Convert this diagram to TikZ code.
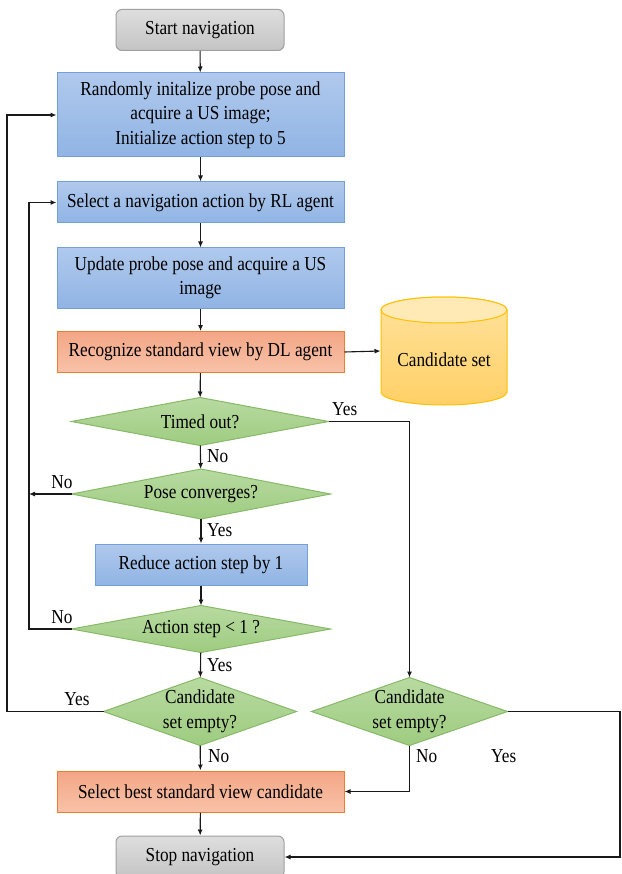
\documentclass[tikz,border=0pt]{standalone}
\usepackage{fontspec}
\setmainfont[FakeStretch=0.87]{Liberation Serif}
\usetikzlibrary{arrows.meta,backgrounds,calc}
\definecolor{bluetop}{RGB}{176,201,237}
\definecolor{bluebot}{RGB}{144,180,228}
\definecolor{blueedge}{RGB}{116,160,216}
\definecolor{ortop}{RGB}{243,166,134}
\definecolor{orbot}{RGB}{248,194,168}
\definecolor{oredge}{RGB}{237,125,49}
\definecolor{grtop}{RGB}{184,218,161}
\definecolor{grbot}{RGB}{158,204,128}
\definecolor{gredge}{RGB}{135,185,105}
\definecolor{gytop}{RGB}{222,222,222}
\definecolor{gybot}{RGB}{196,196,196}
\definecolor{gyedge}{RGB}{160,160,160}
\definecolor{yltop}{RGB}{255,226,156}
\definecolor{ylbot}{RGB}{255,208,102}
\definecolor{yledge}{RGB}{255,192,0}
\definecolor{linec}{RGB}{25,25,25}
\begin{document}
\begin{tikzpicture}[x=1pt,y=-1pt,
  font=\fontsize{19.8}{24.5}\selectfont,
  base/.style={align=center,inner sep=0pt,line width=1pt},
  bluebox/.style={base,draw=blueedge,top color=bluetop,bottom color=bluebot,minimum width=287pt},
  orbox/.style={base,draw=oredge,top color=ortop,bottom color=orbot,minimum width=287pt,minimum height=41pt},
  graybox/.style={base,draw=gyedge,top color=gytop,bottom color=gybot,rounded corners=6pt,minimum width=168pt},
  dianode/.style={base,rectangle},
  diashape/.style={draw=gredge,top color=grtop,bottom color=grbot,line width=1pt},
  arr/.style={draw=linec,line width=1.1pt,-{Latex[length=6pt,width=5pt]}},
  lbl/.style={inner sep=0pt}]
\useasboundingbox (0,0) rectangle (621,874);

\node[graybox,minimum height=41pt] (start) at (200,30) {Start navigation};
\node[bluebox,minimum height=84pt] (b1) at (200.5,115) {Randomly initalize probe pose and\\acquire a US image;\\Initialize action step to 5};
\node[bluebox,minimum height=41pt] (b2) at (200.5,202.5) {Select a navigation action by RL agent};
\node[bluebox,minimum height=60pt] (b3) at (200.5,278) {Update probe pose and acquire a US\\image};
\node[orbox] (b4) at (200.5,352) {Recognize standard view by DL agent};
\node[base,minimum width=126pt,minimum height=108pt] (cand) at (444,351) {};
\node[base] (candtxt) at (444,360) {Candidate set};
\node[dianode,minimum width=256pt,minimum height=47pt] (d1) at (200,421.5) {Timed out?};
\node[dianode,minimum width=258pt,minimum height=49pt] (d2) at (201,494) {Pose converges?};
\node[bluebox,minimum width=212pt,minimum height=41pt] (b5) at (201,564.5) {Reduce action step by 1};
\node[dianode,minimum width=258pt,minimum height=46pt] (d3) at (201,629) {Action step < 1 ?};
\node[dianode,minimum width=192pt,minimum height=67pt] (d4) at (200,711.5) {Candidate\\set empty?};
\node[dianode,minimum width=195pt,minimum height=67pt] (d5) at (409.5,711.5) {Candidate\\set empty?};
\node[orbox] (b6) at (200.5,791.5) {Select best standard view candidate};
\node[graybox,minimum height=42pt] (stop) at (200,857) {Stop navigation};

\begin{scope}[on background layer]
  \foreach \d in {d1,d2,d3,d4,d5}{
    \path[diashape] (\d.north) -- (\d.east) -- (\d.south) -- (\d.west) -- cycle;
  }
  % cylinder
  \path[draw=yledge,top color=yltop,bottom color=ylbot,line width=1pt]
    (381,310) -- (381,392) arc[start angle=180,end angle=0,x radius=63,y radius=13]
    -- (507,310) arc[start angle=0,end angle=-180,x radius=63,y radius=13] -- cycle;
  \path[draw=yledge,fill=yltop!75!white,line width=1pt]
    (444,310) ellipse[x radius=63,y radius=13];
\end{scope}

\coordinate (lp) at (29,629);
\coordinate (ln2) at (29,494);
\coordinate (lq) at (7,711.5);
\coordinate (rq) at (620,711.5);

\draw[arr] (start) -- (b1);
\draw[arr] (b1) -- (b2);
\draw[arr] (b2) -- (b3);
\draw[arr] (b3) -- (b4);
\draw[arr] (b4.east) -- (cand.west);
\draw[arr] (b4) -- (d1);
\draw[arr] (d1) -- (d2);
\draw[arr] (d2) -- (b5);
\draw[arr] (b5) -- (d3);
\draw[arr] (d3) -- (d4);
\draw[arr] (d4) -- (b6);
\draw[arr] (b6) -- (stop);
\draw[arr] (d1.east) -| (d5.north);
\draw[arr] (d2.west) -- (ln2);
\draw[arr] (d3.west) -- (lp) |- (b2.west);
\draw[arr] (d4.west) -- (lq) |- (b1.west);
\draw[arr] (d5.east) -- (rq) |- (stop.east);
\draw[arr] (d5.south) |- (b6.east);

\node[lbl,anchor=west] (y1) at (332,409) {Yes};
\node[lbl,anchor=west] (n1) at (207,456) {No};
\node[lbl,anchor=center] (n2) at (62,482) {No};
\node[lbl,anchor=west] (y2) at (207,530) {Yes};
\node[lbl,anchor=center] (n3) at (62,617) {No};
\node[lbl,anchor=west] (y3) at (207,665) {Yes};
\node[lbl,anchor=center] (y4) at (77,699) {Yes};
\node[lbl,anchor=west] (n4) at (208,756) {No};
\node[lbl,anchor=west] (n5) at (416,756) {No};
\node[lbl,anchor=west] (y5) at (491,756) {Yes};
\end{tikzpicture}
\end{document}
